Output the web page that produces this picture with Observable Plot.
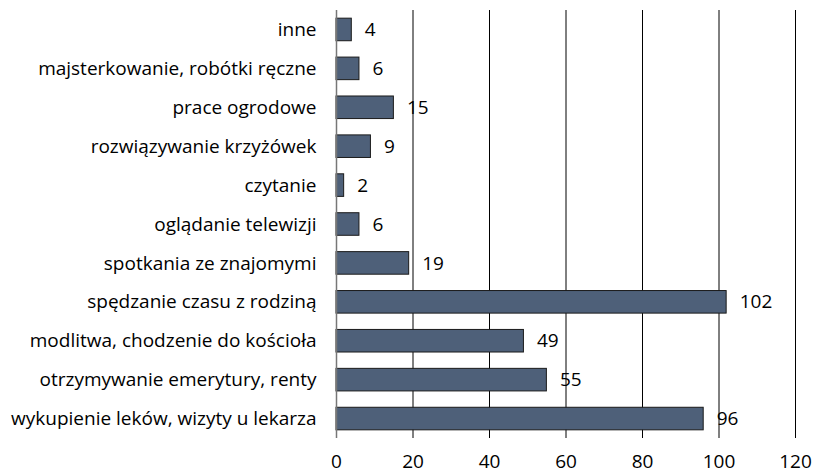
<!DOCTYPE html>
<html>
<head>
<meta charset="utf-8">
<script src="https://cdn.jsdelivr.net/npm/d3@7"></script>
<script src="https://cdn.jsdelivr.net/npm/@observablehq/plot@0.6"></script>
<style>
  body { margin: 0; background: #fff; }
</style>
</head>
<body>
<div id="chart"></div>
<script>
const categories = [
  "inne",
  "majsterkowanie, robótki ręczne",
  "prace ogrodowe",
  "rozwiązywanie krzyżówek",
  "czytanie",
  "oglądanie telewizji",
  "spotkania ze znajomymi",
  "spędzanie czasu z rodziną",
  "modlitwa, chodzenie do kościoła",
  "otrzymywanie emerytury, renty",
  "wykupienie leków, wizyty u lekarza"
];
const values = [4, 6, 15, 9, 2, 6, 19, 102, 49, 55, 96];
const xTicks = [0, 20, 40, 60, 80, 100, 120];

const data = categories.map((c, i) => ({category: c, value: values[i]}));
const FONT = "'Open Sans', Lato, sans-serif";

const chart = Plot.plot({
  width: 814,
  height: 475,
  marginLeft: 336,
  marginRight: 19,
  marginTop: 10,
  marginBottom: 37,
  style: {fontFamily: FONT, color: "#000", background: "#fff"},
  x: {domain: [0, 120], label: null},
  y: {domain: categories, paddingInner: 0.42, paddingOuter: 0.21, round: false, label: null},
  marks: [
    Plot.ruleX(xTicks.filter(d => d > 0), {stroke: "#000", strokeWidth: 1}),
    Plot.barX(data, {x: "value", y: "category", fill: "#4e6079", stroke: "#1a1a1a", strokeWidth: 1}),
    Plot.ruleX([0], {stroke: "#777", strokeWidth: 1.5}),
    Plot.axisX(xTicks, {tickSize: 0, tickPadding: 16, fontSize: 19, fill: "#000", label: null}),
    Plot.axisY({tickSize: 0, tickPadding: 20, fontSize: 19, fill: "#000", label: null}),
    Plot.text(data, {x: "value", y: "category", text: d => String(d.value), textAnchor: "start", dx: 13, fontSize: 19, fill: "#000"})
  ]
});
document.getElementById("chart").appendChild(chart);
</script>
</body>
</html>
